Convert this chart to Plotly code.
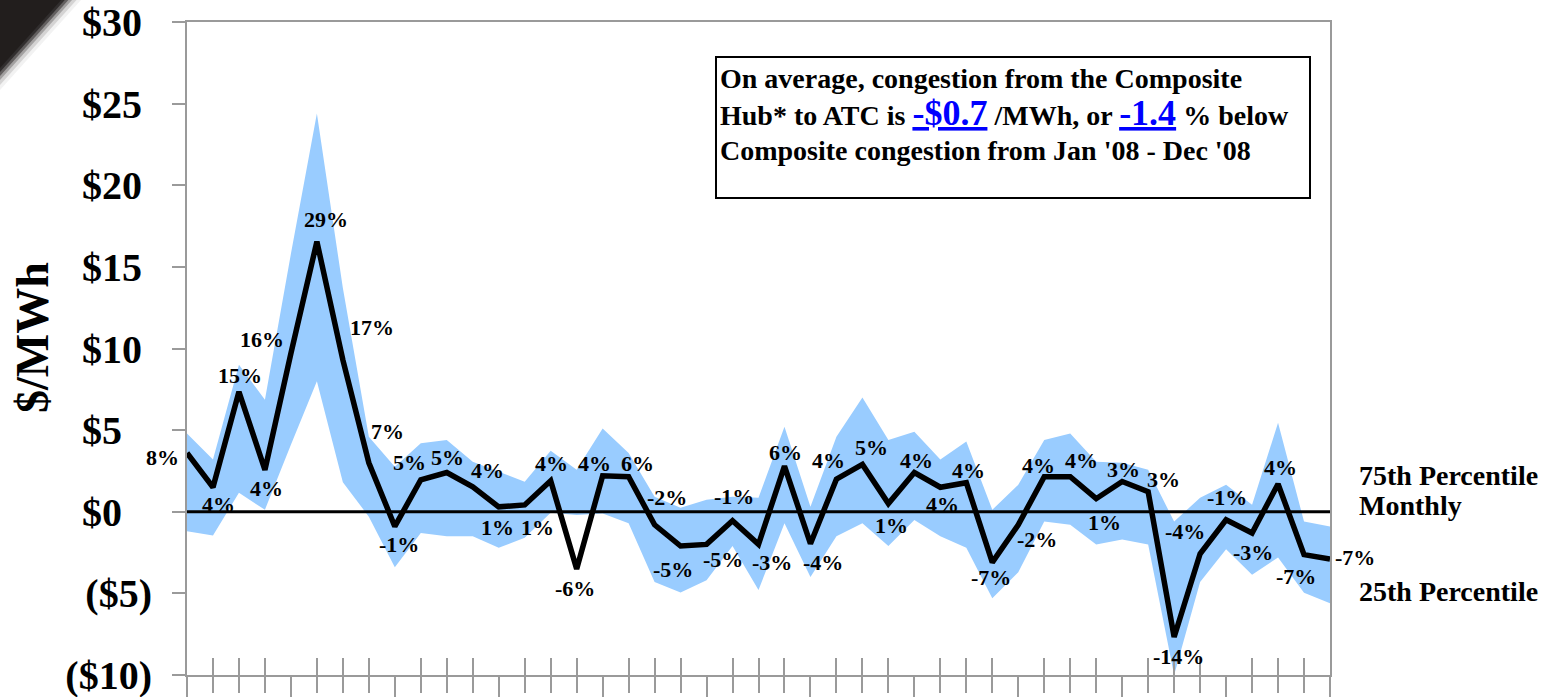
import plotly.graph_objects as go

# ---------------- data ----------------
months = ["Apr-05", "May-05", "Jun-05", "Jul-05", "Aug-05", "Sep-05", "Oct-05", "Nov-05", "Dec-05",
          "Jan-06", "Feb-06", "Mar-06", "Apr-06", "May-06", "Jun-06", "Jul-06", "Aug-06", "Sep-06",
          "Oct-06", "Nov-06", "Dec-06", "Jan-07", "Feb-07", "Mar-07", "Apr-07", "May-07", "Jun-07",
          "Jul-07", "Aug-07", "Sep-07", "Oct-07", "Nov-07", "Dec-07", "Jan-08", "Feb-08", "Mar-08",
          "Apr-08", "May-08", "Jun-08", "Jul-08", "Aug-08", "Sep-08", "Oct-08", "Nov-08", "Dec-08"]

monthly = [3.6, 1.5, 7.35, 2.57, 9.7, 16.55, 9.3, 3.0, -0.9, 1.96,
           2.4, 1.53, 0.3, 0.42, 1.9, -3.5, 2.2, 2.15, -0.8, -2.1,
           -2.0, -0.55, -2.0, 2.8, -1.96, 2.0, 2.9, 0.5, 2.4, 1.5,
           1.78, -3.1, -0.8, 2.15, 2.15, 0.8, 1.85, 1.23, -7.67, -2.57,
           -0.49, -1.3, 1.7, -2.63, -2.9]

p75 = [4.8, 3.2, 9.0, 6.86, 15.8, 24.4, 13.7, 4.6, 2.76, 4.2,
       4.4, 3.06, 2.45, 1.84, 3.74, 2.57, 5.1, 3.6, 0.92, 0.24,
       0.73, 0.92, 0.86, 5.2, 0.3, 4.6, 7.0, 4.4, 4.9, 3.2,
       4.3, 0.12, 1.65, 4.4, 4.8, 3.06, 3.0, 2.57, -0.6, 0.86,
       1.65, 0.43, 5.45, -0.6, -0.9]

p25 = [-1.2, -1.45, 1.16, 0.12, 4.1, 8.0, 1.8, -0.3, -3.4, -1.3,
       -1.5, -1.5, -2.2, -1.6, -0.06, -0.2, -0.1, -0.7, -4.3, -4.95,
       -4.2, -2.1, -4.8, -0.7, -4.0, -1.5, -0.7, -2.1, -0.5, -1.5,
       -2.2, -5.3, -3.7, -0.6, -0.8, -2.0, -1.7, -2.0, -10.0, -4.3,
       -2.3, -3.86, -2.8, -4.96, -5.6]

pct_labels = ["8%", "4%", "15%", "4%", "16%", "29%", "17%", "7%", "-1%", "5%",
              "5%", "4%", "1%", "1%", "4%", "-6%", "4%", "6%", "-2%", "-5%",
              "-5%", "-1%", "-3%", "6%", "-4%", "4%", "5%", "1%", "4%", "4%",
              "4%", "-7%", "-2%", "4%", "4%", "1%", "3%", "3%", "-14%", "-4%",
              "-1%", "-3%", "4%", "-7%", "-7%"]

y_tickvals = [-10, -5, 0, 5, 10, 15, 20, 25, 30]
NB = "\u00a0"
y_ticktext = ["($10)", "($5)", "$0" + NB * 3, "$5" + NB * 3, "$10" + NB, "$15" + NB,
              "$20" + NB, "$25" + NB, "$30" + NB]

# ---------------- styling ----------------
# label offsets from their point, in pixels (x right, y up)
label_dx = [-25, 6, 1, 2, -29, 9, 29, 19, 4, -11,
            1, 15, -1, 13, 1, -2, -8, 9, 12, -8,
            16, 1, 13, 1, 13, -8, 9, 3, 2, 2,
            2, -1, 19, -6, 11, 8, 1, 15, 4, -15,
            1, 1, 2, -8, 25]
label_dy = [-5, -17, 16, -19, 14, 22, 32, 31, -18, 17,
            15, 16, -21, -23, 17, -20, 12, 13, 27, -23,
            -15, 24, -18, 14, -19, 19, 17, -22, 12, -17,
            12, -15, -15, 11, 16, -24, 12, 12, -20, 22,
            22, -20, 17, -22, 2]

FONT = "Liberation Serif, Times New Roman, serif"
W, H = 1553, 697
L, R, T, B = 187, 1330, 22, 675   # plot area in page pixels
GRAY = "#9a9a9a"
BAND = "#99CCFF"


def px(x):
    return (x - L) / (R - L)


def py(y):
    return (B - y) / (B - T)


idx = list(range(len(months)))
n = len(months)
major = [i for i in idx if i % 4 == 0]
minor = [i for i in idx if i % 4 != 0]

fig = go.Figure()

fig.add_trace(go.Scatter(x=idx, y=p25, mode="lines", line=dict(width=0, color=BAND),
                         hoverinfo="skip", showlegend=False, name="25th Percentile"))
fig.add_trace(go.Scatter(x=idx, y=p75, mode="lines", line=dict(width=0, color=BAND),
                         fill="tonexty", fillcolor=BAND, showlegend=False, name="75th Percentile"))
fig.add_trace(go.Scatter(x=idx, y=monthly, mode="lines", line=dict(color="black", width=5.5),
                         customdata=months, showlegend=False, name="Monthly"))
# invisible trace on the overlay axis (crossing ticks)
fig.add_trace(go.Scatter(x=[0, n - 1], y=[None, None], xaxis="x2", mode="lines",
                         showlegend=False, hoverinfo="skip"))

shapes = []
# zero line
shapes.append(dict(type="line", xref="paper", x0=0, x1=1, yref="y", y0=0, y1=0,
                   line=dict(color="black", width=3), layer="above"))
# text box
shapes.append(dict(type="rect", xref="paper", yref="paper", x0=px(716), x1=px(1310),
                   y0=py(198), y1=py(57), line=dict(color="black", width=2),
                   fillcolor="white", layer="above"))
# slide corner decoration
for ext, op in [(90, 0.06), (85, 0.14), (80, 0.28), (76, 0.5), (72, 0.75), (68, 1.0)]:
    shapes.append(dict(type="path", xref="paper", yref="paper",
                       path=f"M {px(0)},{py(0)} L {px(ext * 0.9)},{py(0)} L {px(0)},{py(ext)} Z",
                       fillcolor="#221e1d", opacity=op, line=dict(width=0)))

ann = []
bold = dict(family=FONT, color="black", weight="bold")
# percentage labels at each monthly point
for i in idx:
    ann.append(dict(text=pct_labels[i], xref="x", yref="y", x=i, y=monthly[i],
                    xshift=label_dx[i], yshift=label_dy[i], showarrow=False,
                    xanchor="center", yanchor="middle",
                    font=dict(size=22, **bold)))
# title (mostly above the page)
ann.append(dict(text="ATC Congestion Comparison", xref="paper", yref="paper",
                x=px(658), y=py(-4), xanchor="left", yanchor="bottom", showarrow=False,
                font=dict(size=47, **bold)))
# box text
blue = "color:#0000FF;font-size:36px"
lines = ["On average, congestion from the Composite",
         f"Hub* to ATC is <span style='{blue}'><u>-$0.7</u></span> /MWh, or "
         f"<span style='{blue}'><u>-1.4</u></span> % below",
         "Composite congestion from Jan '08 - Dec '08"]
for txt, yc in zip(lines, [78, 113, 150]):
    ann.append(dict(text=txt, xref="paper", yref="paper", x=px(718), y=py(yc),
                    xanchor="left", yanchor="middle", showarrow=False,
                    font=dict(size=28, **bold)))
# right side labels
for txt, yc in [("75th Percentile", 476), ("Monthly", 506), ("25th Percentile", 591)]:
    ann.append(dict(text=txt, xref="paper", yref="paper", x=px(1357), y=py(yc),
                    xanchor="left", yanchor="middle", showarrow=False,
                    font=dict(size=28, **bold)))
# y axis title
ann.append(dict(text="$/MWh", xref="paper", yref="paper", x=px(32), y=py(338),
                xanchor="center", yanchor="middle", textangle=-90, showarrow=False,
                font=dict(size=46, **bold)))

fig.update_layout(
    width=W, height=H, autosize=False,
    margin=dict(l=L, r=W - R, t=T, b=H - B, autoexpand=False),
    paper_bgcolor="white", plot_bgcolor="white",
    showlegend=False,
    shapes=shapes, annotations=ann,
    xaxis=dict(range=[0, n - 1], showgrid=False, zeroline=False, automargin=False,
               showline=True, linecolor=GRAY, linewidth=2, mirror=True,
               tickvals=major, ticks="outside", ticklen=21, tickcolor=GRAY, tickwidth=1.5,
               minor=dict(tickvals=minor, ticks="outside", ticklen=16,
                          tickcolor=GRAY, tickwidth=1.5),
               showticklabels=False),
    xaxis2=dict(range=[0, n - 1], overlaying="x", anchor="y", side="bottom",
                showgrid=False, zeroline=False, showline=False, automargin=False,
                tickvals=minor, ticks="inside", ticklen=17, tickcolor=GRAY, tickwidth=1.5,
                showticklabels=False),
    yaxis=dict(range=[-10, 30], showgrid=False, zeroline=False, automargin=False,
               showline=True, linecolor=GRAY, linewidth=2, mirror=True,
               tickvals=y_tickvals, ticktext=y_ticktext,
               ticks="outside", ticklen=13, tickcolor=GRAY, tickwidth=1.5,
               ticklabelstandoff=12, ticklabeloverflow="allow",
               tickfont=dict(family=FONT, size=40, color="black", weight="bold")),
)

# the page itself has no margin, so the figure fills the window exactly
fig.write_html("out.html", config={"displayModeBar": False},
               post_script="document.body.style.margin='0';")
